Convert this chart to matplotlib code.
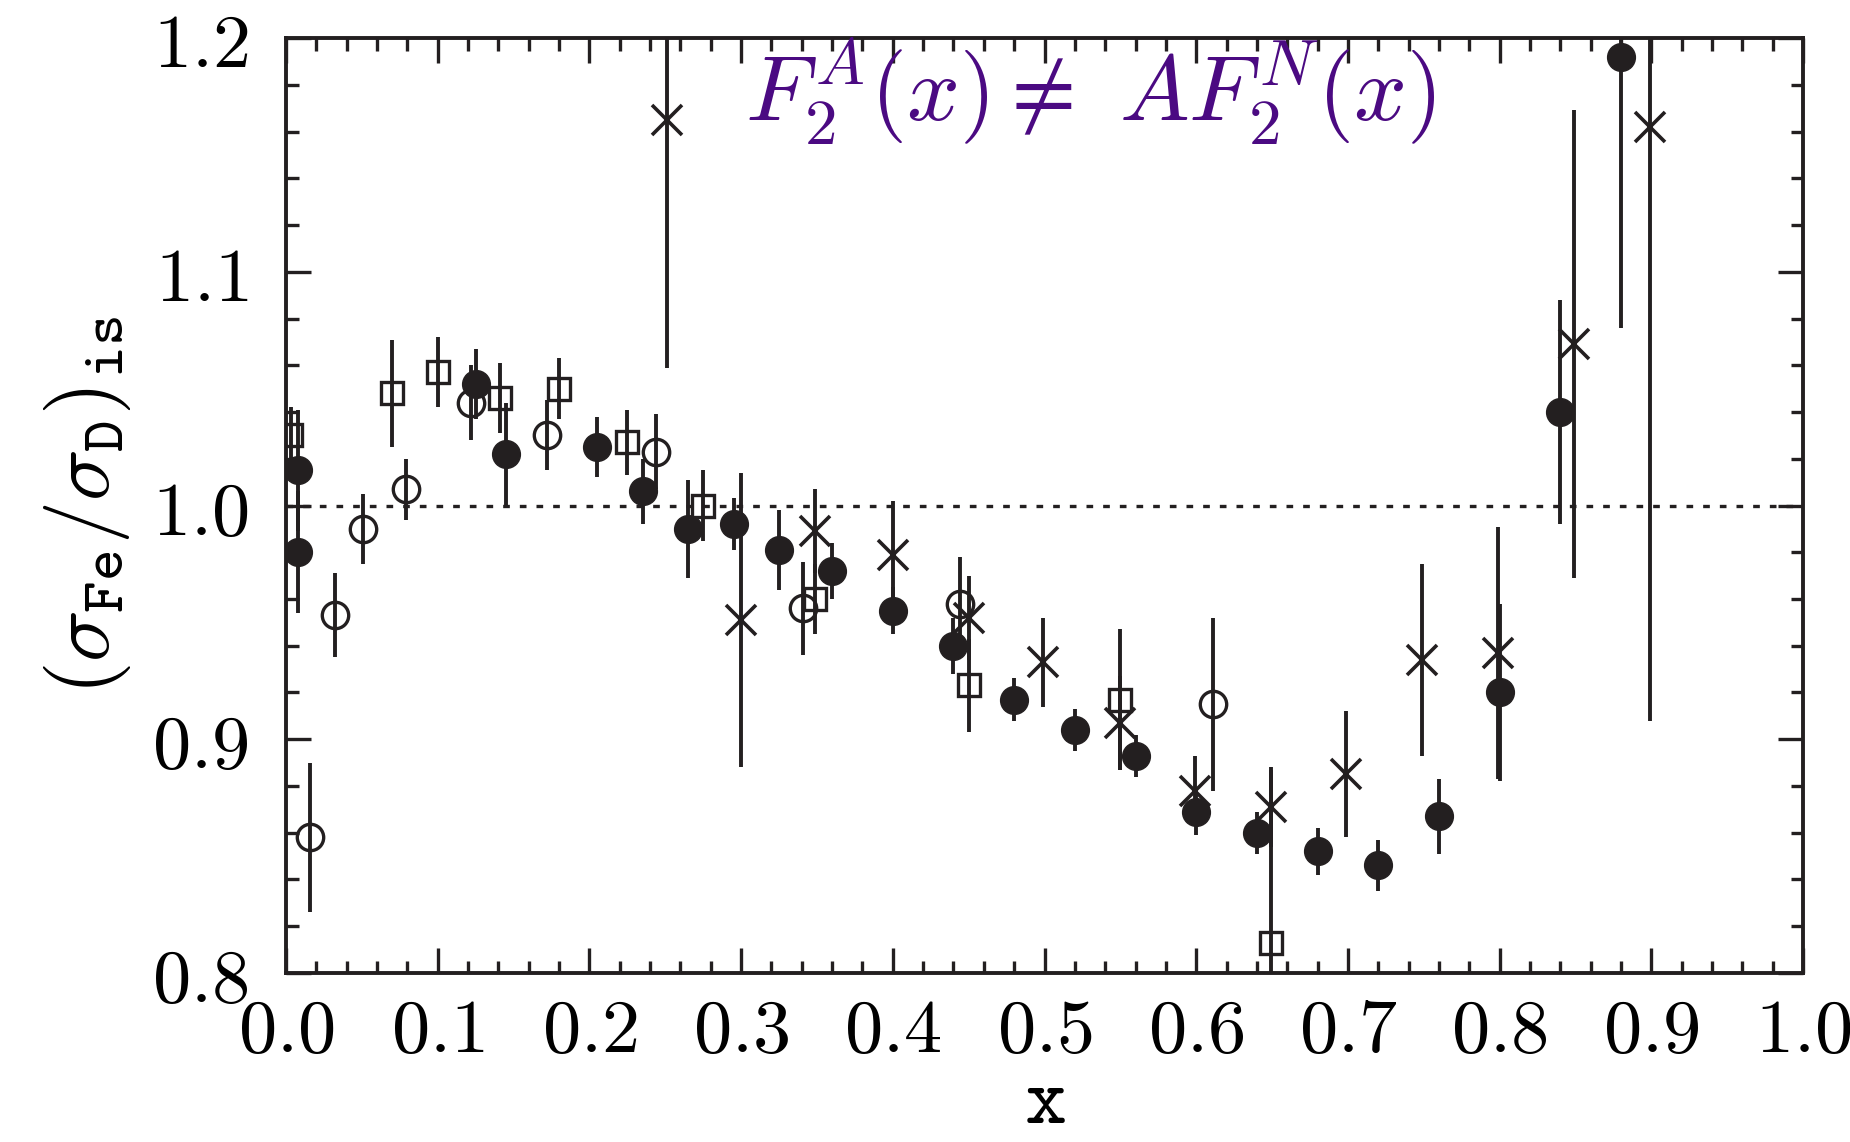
import numpy as np
import matplotlib.pyplot as plt
from matplotlib.ticker import MultipleLocator, FuncFormatter

plt.rcParams['mathtext.fontset'] = 'cm'

# filled circles
fc_x = [0.008, 0.008, 0.125, 0.145, 0.205, 0.235, 0.265, 0.295, 0.325, 0.360,
        0.400, 0.440, 0.480, 0.520, 0.560, 0.600, 0.640, 0.680, 0.720, 0.760,
        0.800, 0.840, 0.880]
fc_y = [1.015, 0.980, 1.052, 1.022, 1.025, 1.006, 0.990, 0.992, 0.981, 0.972,
        0.955, 0.940, 0.917, 0.904, 0.893, 0.869, 0.860, 0.852, 0.846, 0.867,
        0.920, 1.040, 1.192]
fc_e = [0.026, 0.026, 0.015, 0.022, 0.013, 0.014, 0.021, 0.011, 0.017, 0.012,
        0.010, 0.012, 0.009, 0.009, 0.009, 0.010, 0.009, 0.010, 0.011, 0.016,
        0.038, 0.048, 0.116]

# open circles
oc_x = [0.016, 0.032, 0.051, 0.079, 0.122, 0.172, 0.244, 0.341, 0.444, 0.611]
oc_y = [0.858, 0.953, 0.990, 1.007, 1.044, 1.030, 1.023, 0.956, 0.958, 0.915]
oc_e = [0.032, 0.018, 0.015, 0.013, 0.016, 0.015, 0.016, 0.020, 0.020, 0.037]

# open squares
sq_x = [0.003, 0.070, 0.100, 0.141, 0.180, 0.225, 0.275, 0.349, 0.450, 0.550, 0.649]
sq_y = [1.030, 1.048, 1.057, 1.046, 1.050, 1.027, 1.000, 0.960, 0.923, 0.917, 0.813]
sq_e = [0.012, 0.023, 0.015, 0.015, 0.013, 0.014, 0.015, 0.015, 0.020, 0.030, 0.074]

# crosses
cr_x = [0.251, 0.300, 0.349, 0.400, 0.450, 0.499, 0.550, 0.599, 0.649, 0.699,
        0.749, 0.799, 0.849, 0.899]
cr_y = [1.165, 0.951, 0.989, 0.979, 0.952, 0.933, 0.907, 0.878, 0.871, 0.885,
        0.934, 0.937, 1.069, 1.162]
cr_e = [0.106, 0.063, 0.018, 0.023, 0.018, 0.019, 0.020, 0.015, 0.017, 0.027,
        0.041, 0.054, 0.100, 0.254]

fig = plt.figure(figsize=(18.5, 11.42), dpi=100)
ax = fig.add_axes([0.1546, 0.148, 0.82, 0.8187])

lw = 2.8
ax.axhline(1.0, color='#231f20', lw=2.4, ls=(0, (2, 3)), zorder=1)

common = dict(ls='none', ecolor='#231f20', elinewidth=lw, capsize=0, zorder=3)
ax.errorbar(cr_x, cr_y, yerr=cr_e, fmt='x', ms=21, mew=2.6, color='#231f20', **common)
ax.errorbar(sq_x, sq_y, yerr=sq_e, fmt='s', ms=16, mew=2.4, mfc='none',
            mec='#231f20', **common)
ax.errorbar(oc_x, oc_y, yerr=oc_e, fmt='o', ms=19, mew=2.4, mfc='none',
            mec='#231f20', **common)
ax.errorbar(fc_x, fc_y, yerr=fc_e, fmt='o', ms=20, color='#231f20', **common)

ax.set_xlim(0, 1.0)
ax.set_ylim(0.8, 1.2)
ax.xaxis.set_major_locator(MultipleLocator(0.1))
ax.xaxis.set_minor_locator(MultipleLocator(0.02))
ax.yaxis.set_major_locator(MultipleLocator(0.1))
ax.yaxis.set_minor_locator(MultipleLocator(0.02))
fmt = FuncFormatter(lambda v, p: r'$\mathtt{%.1f}$' % v)
ax.xaxis.set_major_formatter(fmt)
ax.yaxis.set_major_formatter(fmt)
ax.tick_params(which='both', direction='in', top=True, right=True,
               width=2.4, color='#231f20', labelsize=55)
ax.tick_params(which='major', length=18)
ax.tick_params(which='minor', length=9)
ax.tick_params(axis='x', pad=15)
ax.tick_params(axis='y', pad=27)
for s in ax.spines.values():
    s.set_linewidth(2.8)
    s.set_color('#231f20')

ax.set_xlabel(r'$\mathtt{x}$', fontsize=58, labelpad=-4)
ax.set_ylabel(r'$(\sigma_{\mathtt{Fe}}/\sigma_{\mathtt{D}})_{\mathtt{is}}$',
              fontsize=62, labelpad=14)

ax.text(0.53, 0.942, r'$F_2^A(x) \neq\ AF_2^N(x)$', transform=ax.transAxes,
        ha='center', va='center', fontsize=67, color='#4b0a82')

fig.savefig('out.png', dpi=100)
